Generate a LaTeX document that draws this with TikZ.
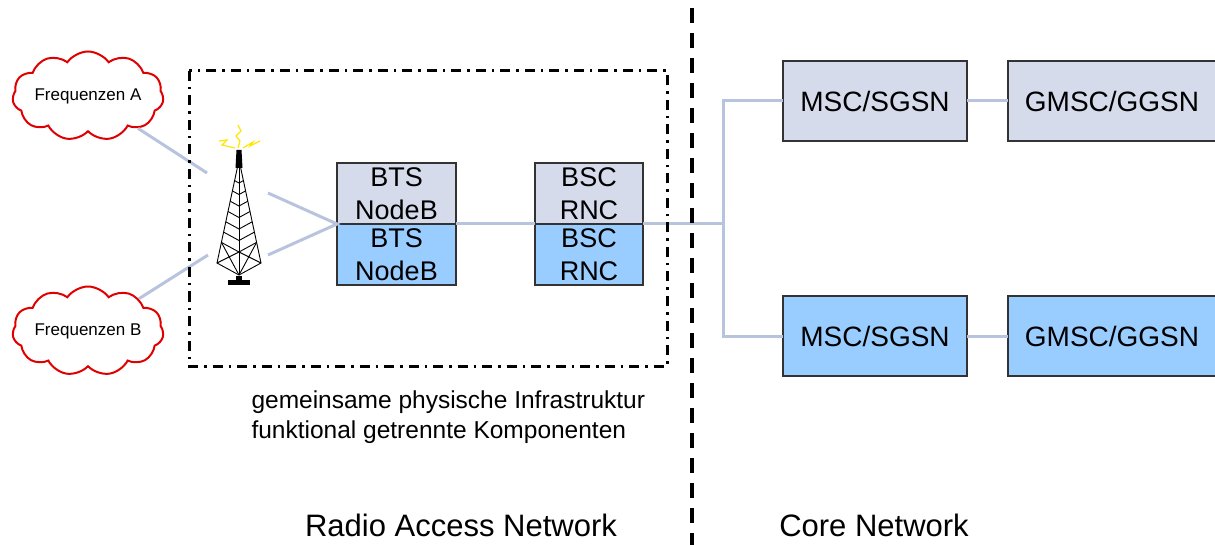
\documentclass[tikz,border=0pt]{standalone}
\usepackage{fontspec}
\setmainfont{Liberation Sans}
\usetikzlibrary{shapes.symbols,positioning,calc}

\definecolor{coretop}{HTML}{D6DBEB}
\definecolor{corebot}{HTML}{99CCFF}
\definecolor{linkcol}{HTML}{B8C4DE}
\definecolor{boxline}{HTML}{333333}
\definecolor{cloudred}{HTML}{E00000}

\begin{document}
\begin{tikzpicture}[x=1pt,y=-1pt]
        \tikzstyle{unit}=[rectangle, draw=boxline, line width=1.2pt, outer sep=0pt, inner sep=0pt, align=center]
        \tikzstyle{ran}=[unit, minimum height=61pt, font=\fontsize{27}{33}\selectfont]
        \tikzstyle{core}=[unit, minimum height=80pt, font=\fontsize{28}{32}\selectfont]
        \tikzstyle{freq}=[cloud, cloud puffs=11, cloud puff arc=110, aspect=1.7, draw=cloudred, line width=2pt, minimum width=151pt, minimum height=89pt, inner sep=0pt]
        \tikzstyle{link}=[draw=linkcol, line width=3pt]
        \tikzstyle{tower}=[draw=black, line width=0.9pt]
        \tikzstyle{spark}=[draw=yellow!90!orange, line width=1.2pt]
        \useasboundingbox (0,0) rectangle (1215,545);
        % clouds
        \node[freq] (freqA) at (88,96) [label={center:\fontsize{17}{20}\selectfont Frequenzen A}] {};
        \node[freq] (freqB) at (88,331) [label={center:\fontsize{17}{20}\selectfont Frequenzen B}] {};
        % radio access boxes
        \node[ran, minimum width=119pt, fill=coretop] (btsT) at (396.5,193.5) {BTS\\NodeB};
        \node[ran, minimum width=119pt, fill=corebot] (btsB) [below=0pt of btsT] {BTS\\NodeB};
        \node[ran, minimum width=108pt, fill=coretop] (bscT) [right=79pt of btsT] {BSC\\RNC};
        \node[ran, minimum width=108pt, fill=corebot] (bscB) [below=0pt of bscT] {BSC\\RNC};
        % core boxes
        \node[core, minimum width=184pt, fill=coretop] (mscT) at (875,101) {MSC/SGSN};
        \node[core, minimum width=184pt, fill=corebot] (mscB) [below=155pt of mscT] {MSC/SGSN};
        \node[core, minimum width=208pt, fill=coretop] (gmscT) [right=41pt of mscT] {GMSC/GGSN};
        \node[core, minimum width=208pt, fill=corebot] (gmscB) [right=41pt of mscB] {GMSC/GGSN};
        % tower
        \coordinate (apex) at (239,160);
        \coordinate (legL) at (217,263);
        \coordinate (legR) at (261,263);
        \coordinate (legC) at (239,275);
        \draw[tower] (apex) -- (legL) -- (legC) -- (legR) -- cycle;
        \draw[tower] (apex) -- (legC);
        \foreach \t in {0.2,0.3,...,0.9}
          \draw[tower] ($(apex)!\t!(legL)$) -- ($(apex)!\t!(legC)$) -- ($(apex)!\t!(legR)$);
        \draw[tower] ($(apex)!0.8!(legL)$) -- (legC) ($(apex)!0.8!(legC)$) -- (legL)
          ($(apex)!0.8!(legR)$) -- (legC) ($(apex)!0.8!(legC)$) -- (legR);
        \fill (236.5,150) -- (241.5,150) -- (242.5,168) -- (235.5,168) -- cycle;
        \fill (236,276) rectangle (242,280);
        \fill (228,280) rectangle (250,285);
        \draw[spark] (238,125) -- (241,131) -- (236,136) -- (240,141) -- (238,148);
        \draw[spark] (219,141) -- (227,140) -- (222,145) -- (235,148);
        \draw[spark] (243,148) -- (253,142) -- (250,146) -- (260,141);
        \coordinate (towerA) at (207,173);
        \coordinate (towerB) at (208,255);
        \coordinate (towerU) at (268,193);
        \coordinate (towerD) at (268,255);
        \coordinate (bus) at (723,224);
        % links
        \path[link] (freqA) -- (towerA);
        \path[link] (freqB) -- (towerB);
        \path[link] (towerU) -- (btsT.south west) -- (towerD);
        \path[link] (btsT.south east) -- (bscT.south west);
        \path[link] (bscT.south east) -- (bus);
        \path[link] (mscT.west) -| (bus) |- (mscB.west);
        \path[link] (mscT) -- (gmscT);
        \path[link] (mscB) -- (gmscB);
        % shared infrastructure frame and divider
        \draw[line width=3pt, dash pattern=on 10pt off 6pt on 2.5pt off 6pt] (189,71) rectangle (667,366);
        \draw[line width=4pt, dash pattern=on 15pt off 10pt] (692,8) -- (692,545);
        % texts
        \node[anchor=west, align=left, font=\fontsize{24.5}{30}\selectfont] (caption) at (248,417) {gemeinsame physische Infrastruktur\\funktional getrennte Komponenten};
        \node[font=\fontsize{31}{36}\selectfont] (ranlabel) at (461,525) {Radio Access Network};
        \node[font=\fontsize{31}{36}\selectfont] (corelabel) at (874,525) {Core Network};
      \end{tikzpicture}
\end{document}
